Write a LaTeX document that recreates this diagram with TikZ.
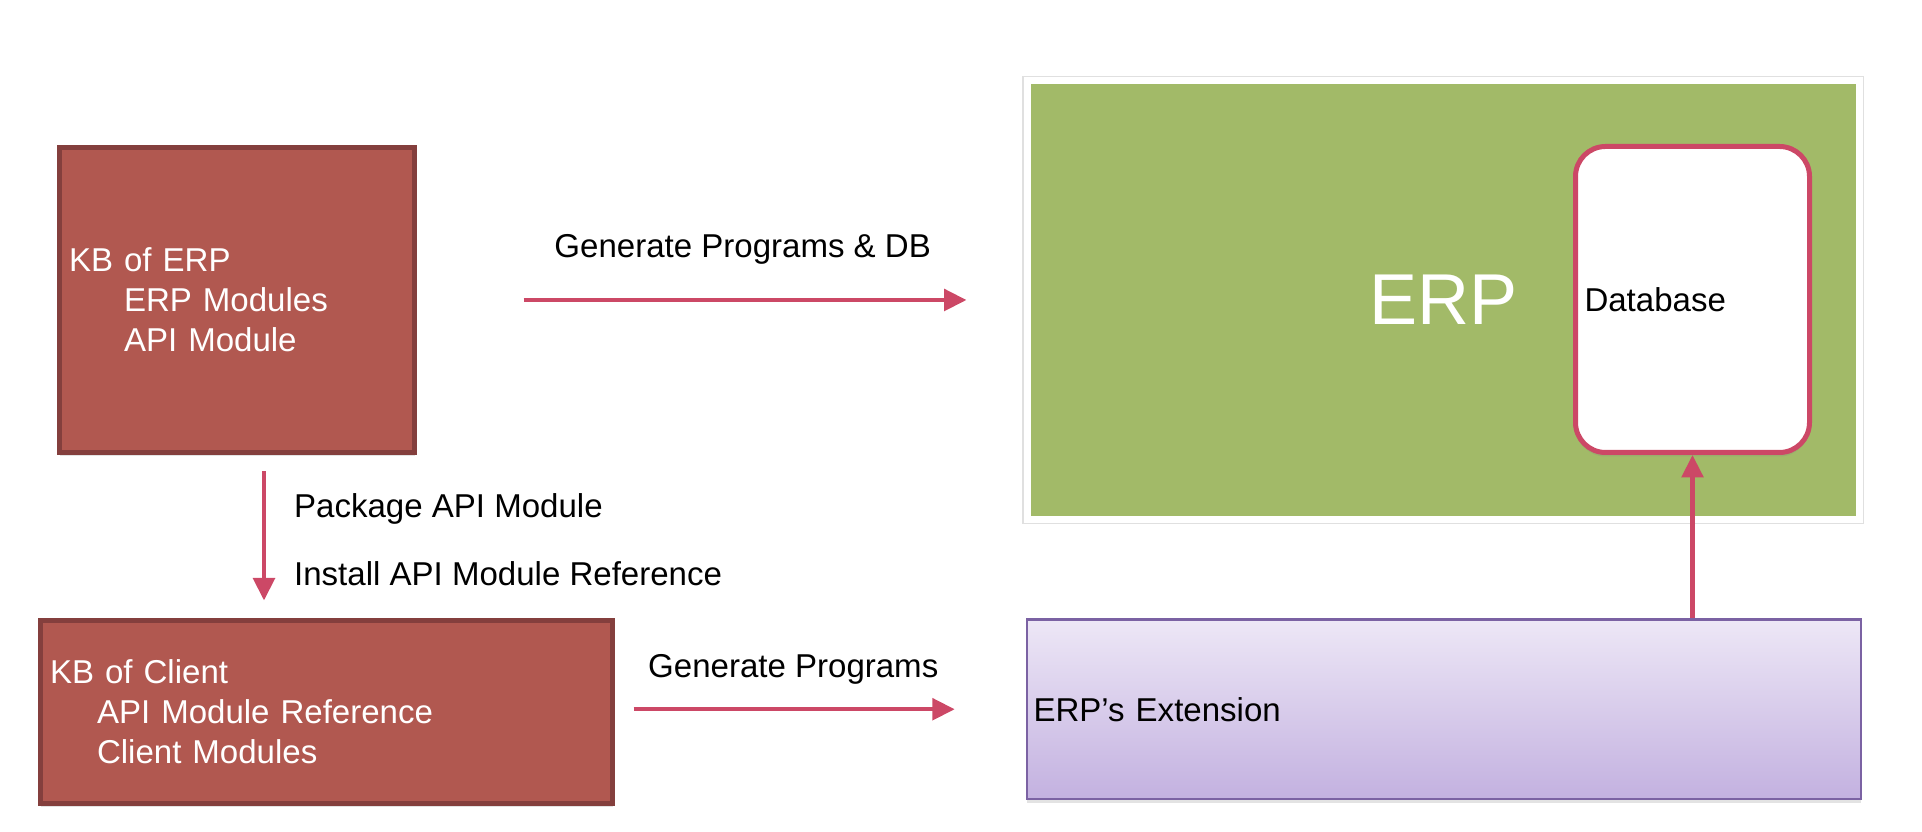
\documentclass[tikz,border=0pt]{standalone}
\usepackage{fontspec}
\setmainfont{Liberation Sans}
\definecolor{kbred}{RGB}{177, 88, 80}
\definecolor{kbborder}{RGB}{132, 63, 61}
\definecolor{erpgreen}{RGB}{162, 186, 104}
\definecolor{flowpink}{RGB}{204, 72, 102}
\definecolor{extlight}{RGB}{237, 231, 246}
\definecolor{extdark}{RGB}{195, 177, 224}
\definecolor{extborder}{RGB}{123, 98, 163}
\usetikzlibrary{arrows.meta, positioning, shadows}

\begin{document}
\begin{tikzpicture}[
  font=\fontsize{18.8pt}{22.8pt}\selectfont,
  softshadow/.style={drop shadow={opacity=0.22, shadow xshift=0cm, shadow yshift=-0.08cm}},
  kbbox/.style={draw=kbborder, fill=kbred, line width=0.1cm, text=white, align=left, inner xsep=0.19cm, inner ysep=0pt, softshadow},
  erpbox/.style={draw=white, fill=erpgreen, line width=0.14cm, text=white, minimum width=16.65cm, minimum height=8.78cm, font=\fontsize{41pt}{48pt}\selectfont, preaction={draw=black!12, line width=0.19cm}, softshadow},
  dbbox/.style={draw=flowpink, fill=white, line width=0.1cm, rounded corners=0.6cm, align=left, text width=4.32cm, inner xsep=0.18cm, inner ysep=0pt, minimum height=6.12cm, softshadow},
  extbox/.style={draw=extborder, line width=0.05cm, top color=extlight, bottom color=extdark, align=left, text width=16.42cm, inner xsep=0.13cm, inner ysep=0pt, minimum height=3.59cm, softshadow},
  flow/.style={draw=flowpink, line width=0.087cm, -{Triangle[length=0.45cm, width=0.43cm]}},
  flowlabel/.style={inner sep=0pt}
]
  \useasboundingbox (0, 0) rectangle (38.44, 16.64);

  \node[kbbox, text width=6.72cm, minimum height=6.1cm] (kberp) at (4.74, 10.64) {
    KB of ERP\\
    \hspace*{1.1cm}ERP Modules\\
    \hspace*{1.1cm}API Module
  };
  \node[kbbox, text width=11.06cm, minimum height=3.66cm] (kbclient) at (6.53, 2.4) {
    KB of Client\\
    \hspace*{0.94cm}API Module Reference\\
    \hspace*{0.94cm}Client Modules
  };

  \node[erpbox] (erp) at (28.865, 10.64) {ERP};
  \node[dbbox] (db) at (33.85, 10.65) {Database};
  \node[extbox] (ext) at (28.88, 2.455) {ERP’s Extension};

  \draw[flow, shorten <=2.13cm, shorten >=1.14cm] (kberp) -- (erp)
    node[flowlabel, pos=0.537, anchor=base, yshift=0.84cm] {Generate Programs \& DB};

  \coordinate (dropstart) at ([xshift=0.54cm]kberp.south);
  \draw[flow, shorten <=0.33cm, shorten >=0.35cm] (dropstart) -- (dropstart |- kbclient.north)
    node[flowlabel, pos=0.384, anchor=base west, xshift=0.56cm] {Package API Module}
    node[flowlabel, pos=0.8, anchor=base west, xshift=0.56cm] {Install API Module Reference};

  \draw[flow, shorten <=0.37cm, shorten >=1.42cm] (kbclient.east |- ext.west) -- (ext.west)
    node[flowlabel, pos=0.434, anchor=base, yshift=0.64cm] {Generate Programs};

  \draw[flow] (ext.north -| db.south) -- (db.south);
\end{tikzpicture}
\end{document}
